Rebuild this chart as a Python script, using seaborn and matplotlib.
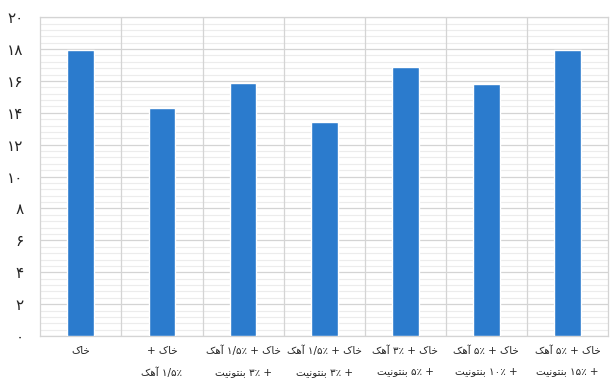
import numpy as np
import pandas as pd
import seaborn as sns
import matplotlib.pyplot as plt
from matplotlib.ticker import MultipleLocator

# chart data (logical Persian text, lines split with \n)
categories = [
    "خاک",
    "خاک +\n۱/۵٪ آهک",
    "خاک + ۱/۵٪ آهک\n+ ۳٪ بنتونیت",
    "خاک + ۱/۵٪ آهک\n+ ۳٪ بنتونیت ",
    "خاک + ۳٪ آهک\n+ ۵٪ بنتونیت",
    "خاک + ۵٪ آهک\n+ ۱۰٪ بنتونیت",
    "خاک + ۵٪ آهک\n+ ۱۵٪ بنتونیت",
]
values = [17.95, 14.3, 15.9, 13.4, 16.9, 15.8, 17.95]
y_ticks = [0, 2, 4, 6, 8, 10, 12, 14, 16, 18, 20]
y_tick_labels = ["۰", "۲", "۴", "۶", "۸", "۱۰", "۱۲", "۱۴", "۱۶", "۱۸", "۲۰"]

# matplotlib has no arabic shaping, so pick contextual forms by hand
# (isolated, final, initial, medial)
FORMS = {
    "ا": ("\uFE8D", "\uFE8E"),
    "آ": ("\uFE81", "\uFE82"),
    "و": ("\uFEED", "\uFEEE"),
    "ب": ("\uFE8F", "\uFE90", "\uFE91", "\uFE92"),
    "ت": ("\uFE95", "\uFE96", "\uFE97", "\uFE98"),
    "خ": ("\uFEA5", "\uFEA6", "\uFEA7", "\uFEA8"),
    "ن": ("\uFEE5", "\uFEE6", "\uFEE7", "\uFEE8"),
    "ه": ("\uFEE9", "\uFEEA", "\uFEEB", "\uFEEC"),
    "ک": ("\uFB8E", "\uFB8F", "\uFB90", "\uFB91"),
    "ی": ("\uFBFC", "\uFBFD", "\uFBFE", "\uFBFF"),
}


def shape_word(word):
    out = []
    for i, c in enumerate(word):
        if c not in FORMS:
            out.append(c)
            continue
        prev_joins = i > 0 and len(FORMS.get(word[i - 1], ())) == 4
        next_joins = (i < len(word) - 1 and len(FORMS[c]) == 4
                      and word[i + 1] in FORMS)
        f = FORMS[c]
        if prev_joins and next_joins:
            out.append(f[3])
        elif prev_joins:
            out.append(f[1])
        elif next_joins:
            out.append(f[2])
        else:
            out.append(f[0])
    return "".join(out)


def rtl(text):
    lines = []
    for line in text.strip().split("\n"):
        toks = []
        for t in line.split(" ")[::-1]:
            if any(ch in FORMS for ch in t):
                toks.append(shape_word(t)[::-1])
            else:
                toks.append(t)
        lines.append(" ".join(toks))
    return "\n".join(lines)


df = pd.DataFrame({"cat": categories, "val": values})

sns.set_style("white")
plt.rcParams["font.family"] = ["DejaVu Sans"]

fig = plt.figure(figsize=(6.11, 3.81), dpi=100)
ax = fig.add_axes([0.066, 0.118, 0.929, 0.837])

sns.barplot(data=df, x="cat", y="val", color="#2b7bcd", width=0.33,
            saturation=1, ax=ax, zorder=3)

ax.set_ylim(0, 20)
ax.set_xlim(-0.5, len(categories) - 0.5)
ax.set_yticks(y_ticks)
ax.set_yticklabels(y_tick_labels, fontsize=11)
ax.yaxis.set_minor_locator(MultipleLocator(0.4))
ax.grid(axis="y", which="major", color="#d4d4d4", linewidth=0.9, zorder=0)
ax.grid(axis="y", which="minor", color="#ececec", linewidth=0.8, zorder=0)
for xb in np.arange(0.5, len(categories) - 0.5, 1):
    ax.axvline(xb, color="#d4d4d4", linewidth=0.9, zorder=1)

ax.set_xticks(range(len(categories)))
ax.set_xticklabels([rtl(c) for c in categories], fontsize=7.5,
                   linespacing=2.3, ha="center", multialignment="center")
ax.tick_params(axis="both", length=0)
ax.tick_params(axis="y", pad=12)
ax.tick_params(axis="x", pad=7)
ax.set_xlabel("")
ax.set_ylabel("")
for s in ax.spines.values():
    s.set_color("#d4d4d4")
    s.set_linewidth(0.9)

fig.savefig("out.png", dpi=100)
